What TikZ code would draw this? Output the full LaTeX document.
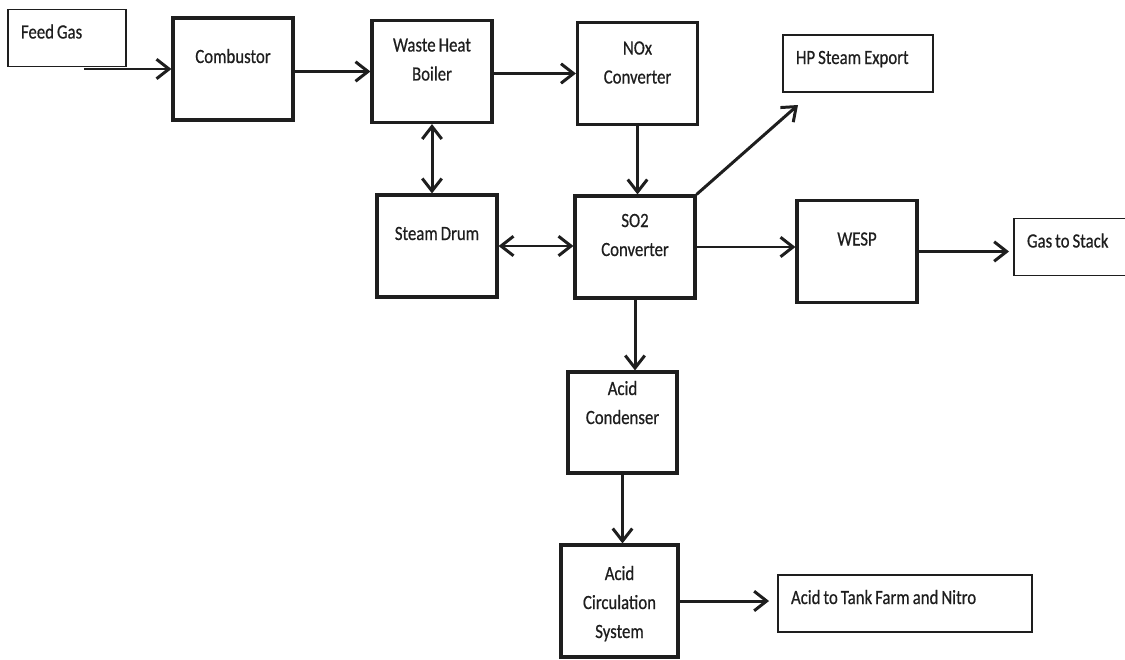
\documentclass[tikz,border=0pt]{standalone}
\usepackage{fontspec}
\setmainfont{Carlito}[FakeStretch=0.83, WordSpace=0.8, FakeBold=0.6]
\usepackage{tikz}
\usetikzlibrary{arrows.meta}
\definecolor{ink}{RGB}{30,30,30}

\begin{document}
\begin{tikzpicture}[x=0.02cm, y=-0.02cm,
        font=\fontsize{11.5}{16.5}\selectfont\color{ink},
        >={Straight Barb[length=2.5mm, width=3.9mm]},
        unit/.style={draw=ink, line width=1.8pt, align=center, inner sep=0pt, minimum width=2.4cm, text height=#1, text depth={2.04cm-#1}},
        outlet/.style={draw=ink, line width=1.1pt, align=flush left, inner xsep=0.26cm, inner ysep=0pt, text width=#1, text height=0.58cm, text depth=0.56cm},
        flow/.style={draw=ink, line width=1.7pt, ->},
        both/.style={draw=ink, line width=1.7pt, <->}
    ]
    \useasboundingbox (0,0) rectangle (1125,659);
    % --- Gas train ---
    \node[outlet=1.84cm] (feed) at (67,38) {Feed Gas};
    \node[unit=0.90cm] (cmb) at (233,69) {Combustor};
    \node[unit=1.20cm] (whb) at (432,71.5) {Waste Heat\\Boiler};
    \node[unit=1.22cm] (nox) at (637.5,73.5) {NOx\\Converter};
    \node[unit=1.20cm] (so2) at (635,247) {SO2\\Converter};
    \node[unit=0.90cm] (drum) at (437,246) {Steam Drum};
    \node[unit=0.90cm] (wesp) at (857,251.5) {WESP};
    \node[outlet=2.48cm] (hp) at (858,63.5) {HP Steam Export};
    \node[outlet=2.08cm] (stack) at (1079,247) {Gas to Stack};
    % --- Acid side ---
    \node[unit=1.04cm, minimum width=2.18cm, text depth=0.98cm] (cond) at (622.5,422.5) {Acid\\Condenser};
    \node[unit=1.86cm, minimum width=2.34cm, text depth=0.38cm] (circ) at (619.5,601) {Acid\\Circulation\\System};
    \node[outlet=4.56cm] (tank) at (905,603.5) {Acid to Tank Farm and Nitro};
    % --- Connectors ---
    \coordinate (feedout) at (84,69);
    \coordinate (hpin) at (798,105);
    \draw[flow] (feedout) -- (cmb);
    \draw[flow] (cmb.east |- whb) -- (whb);
    \draw[flow] (whb.east |- nox) -- (nox);
    \draw[flow] (nox) -- (nox |- so2.north);
    \draw[both] (whb) -- (whb |- drum.north);
    \draw[both] (drum) -- (so2.west |- drum);
    \draw[flow] (so2.north east) -- (hpin);
    \draw[flow] (so2) -- (so2 -| wesp.west);
    \draw[flow, shorten >=0.08cm] (wesp) -- (wesp -| stack.west);
    \draw[flow] (so2) -- (so2 |- cond.north);
    \draw[flow] (cond) -- (cond |- circ.north);
    \draw[flow, shorten >=0.16cm] (circ) -- (circ -| tank.west);
\end{tikzpicture}
\end{document}
